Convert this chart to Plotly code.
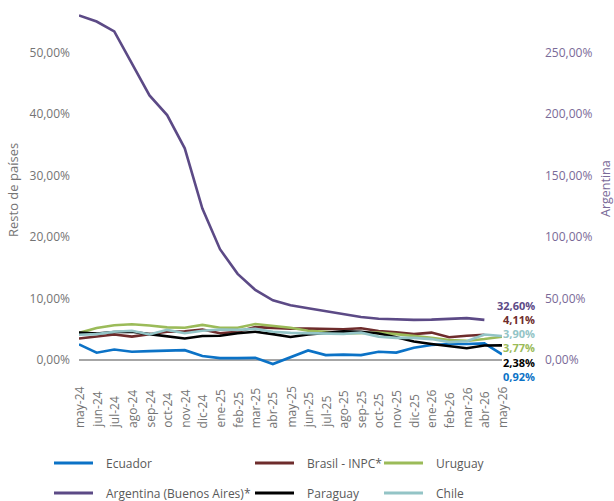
import plotly.graph_objects as go

months = ["may-24", "jun-24", "jul-24", "ago-24", "sep-24", "oct-24", "nov-24", "dic-24",
          "ene-25", "feb-25", "mar-25", "abr-25", "may-25", "jun-25", "jul-25", "ago-25",
          "sep-25", "oct-25", "nov-25", "dic-25", "ene-26", "feb-26", "mar-26", "abr-26", "may-26"]

ecuador = [2.55, 1.19, 1.7, 1.35, 1.45, 1.5, 1.6, 0.65, 0.3, 0.3, 0.35, -0.65, 0.5, 1.55,
           0.8, 0.88, 0.8, 1.35, 1.2, 2.0, 2.45, 2.6, 2.6, 2.7, 0.92]
brasil = [3.5, 3.8, 4.15, 3.8, 4.15, 4.6, 4.65, 4.95, 4.35, 4.6, 5.35, 5.2, 5.1, 5.1,
          5.1, 5.0, 5.15, 4.7, 4.5, 4.2, 4.45, 3.7, 3.95, 4.11]
uruguay = [4.4, 5.2, 5.65, 5.8, 5.6, 5.3, 5.25, 5.7, 5.25, 5.25, 5.85, 5.5, 5.25, 4.75,
           4.6, 4.3, 4.4, 4.45, 4.2, 3.95, 3.6, 3.25, 3.1, 3.4, 3.77]
argentina = [280, 275, 267, 241, 215, 199, 172, 123, 90, 70, 57, 48.5, 44.5, 42,
             39.5, 37, 35, 33.5, 32.8, 32.6, 32.8, 33.6, 34.0, 32.6]
paraguay = [4.45, 4.3, 4.55, 4.6, 4.2, 3.8, 3.5, 3.9, 3.95, 4.35, 4.6, 4.2, 3.75, 4.15,
            4.4, 4.65, 4.6, 4.3, 3.7, 3.0, 2.6, 2.25, 1.9, 2.35, 2.38]
chile = [4.1, 4.2, 4.6, 4.75, 4.15, 4.9, 4.35, 4.75, 4.95, 4.9, 5.05, 4.6, 4.4, 4.35,
         4.2, 4.25, 4.45, 3.8, 3.6, 3.6, 3.4, 2.9, 3.05, 4.15, 3.90]

FONT = "Open Sans"
GRAY = "#747474"
PURPLE_TXT = "#7A6A98"

series = [
    # name, values, color, axis
    ("Ecuador", ecuador, "#0B72C6", "y"),
    ("Brasil - INPC*", brasil, "#6E2C2C", "y"),
    ("Uruguay", uruguay, "#9BBB59", "y"),
    ("Argentina (Buenos Aires)*", argentina, "#5C4A86", "y2"),
    ("Paraguay", paraguay, "#000000", "y"),
    ("Chile", chile, "#93C4C6", "y"),
]

fig = go.Figure()
for name, vals, color, ax in series:
    fig.add_trace(go.Scatter(
        x=months[:len(vals)], y=vals, name=name, mode="lines",
        line=dict(color=color, width=2.6), yaxis=ax, showlegend=False,
    ))

# axes geometry (pixels)
H, W = 501, 614
L, R, T, B = 79, 112, 5, 121
plot_top, plot_bot = T, H - B
pw = W - L - R
ph = plot_bot - plot_top
ppu = 6.154
lo = -(plot_bot - 360) / ppu
hi = (360 - plot_top) / ppu


def px_x(px):
    return (px - L) / pw


def px_y(py):
    return (plot_bot - py) / ph


annotations = []
shapes = []
for m in months:
    annotations.append(dict(x=m, xref="x", y=0, yref="paper", yanchor="bottom",
                            xanchor="center", textangle=-90, yshift=-50, text=m,
                            showarrow=False, font=dict(family=FONT, size=12, color=GRAY)))

# end-of-series value labels
label_order = [("Argentina (Buenos Aires)*", 305), ("Brasil - INPC*", 319), ("Chile", 333),
               ("Uruguay", 347), ("Paraguay", 362), ("Ecuador", 376)]
lookup = {s[0]: s for s in series}
for nm, py in label_order:
    _, vals, color, _ = lookup[nm]
    txt = f"{vals[-1]:.2f}".replace(".", ",") + "%"
    annotations.append(dict(x=months[-1], xref="x", y=px_y(py),
                            yref="paper", xanchor="right", yanchor="middle", xshift=35,
                            text="<b>" + txt + "</b>", showarrow=False,
                            font=dict(family=FONT, size=11, color=color)))

annotations.append(dict(x=px_x(13), xref="paper", y=px_y(190),
                        yref="paper", textangle=-90, text="Resto de países", showarrow=False,
                        xanchor="center", yanchor="middle",
                        font=dict(family=FONT, size=13, color=GRAY)))
annotations.append(dict(x=px_x(605), xref="paper", y=px_y(189),
                        yref="paper", textangle=-90, text="Argentina", showarrow=False,
                        xanchor="center", yanchor="middle",
                        font=dict(family=FONT, size=12.5, color=PURPLE_TXT)))

# legend (two rows x three columns)
legend_cols = [54, 255, 384]
legend_rows = [463, 493]
for k, (name, _, color, _) in enumerate(series):
    cx = legend_cols[k % 3]
    ry = legend_rows[k // 3]
    shapes.append(dict(type="line", xref="paper", yref="paper",
                       x0=px_x(cx), x1=px_x(cx + 39), y0=px_y(ry), y1=px_y(ry),
                       line=dict(color=color, width=3)))
    annotations.append(dict(x=px_x(cx + 50), xref="paper", y=px_y(ry), yref="paper",
                            xanchor="left", yanchor="middle", text=name, showarrow=False,
                            font=dict(family=FONT, size=12, color="#595959")))

fig.update_layout(
    width=W, height=H,
    margin=dict(l=L, r=R, t=T, b=B),
    plot_bgcolor="white", paper_bgcolor="white",
    separators=", ",
    showlegend=False,
    font=dict(family=FONT, size=12, color=GRAY),
    xaxis=dict(type="category", range=[0, len(months) - 1], showticklabels=False,
               showgrid=False, showline=False, zeroline=False, ticks=""),
    yaxis=dict(range=[lo, hi], tick0=0, dtick=10, tickformat=".2f", ticksuffix="%",
               showgrid=False, zeroline=True, zerolinecolor="#A6A6A6", zerolinewidth=2,
               showline=False, ticks="", ticklabelstandoff=8,
               tickfont=dict(family=FONT, size=12, color=GRAY)),
    yaxis2=dict(range=[lo * 5, hi * 5], tick0=0, dtick=50, tickformat=".2f", ticksuffix="%",
                overlaying="y", side="right", showgrid=False, zeroline=False, showline=False,
                ticks="", ticklabelstandoff=42,
                tickfont=dict(family=FONT, size=12, color=PURPLE_TXT)),
    annotations=annotations,
    shapes=shapes,
)

fig.write_html("out.html", config={"displayModeBar": False},
               post_script="document.body.style.margin='0';document.body.style.overflow='hidden';")
